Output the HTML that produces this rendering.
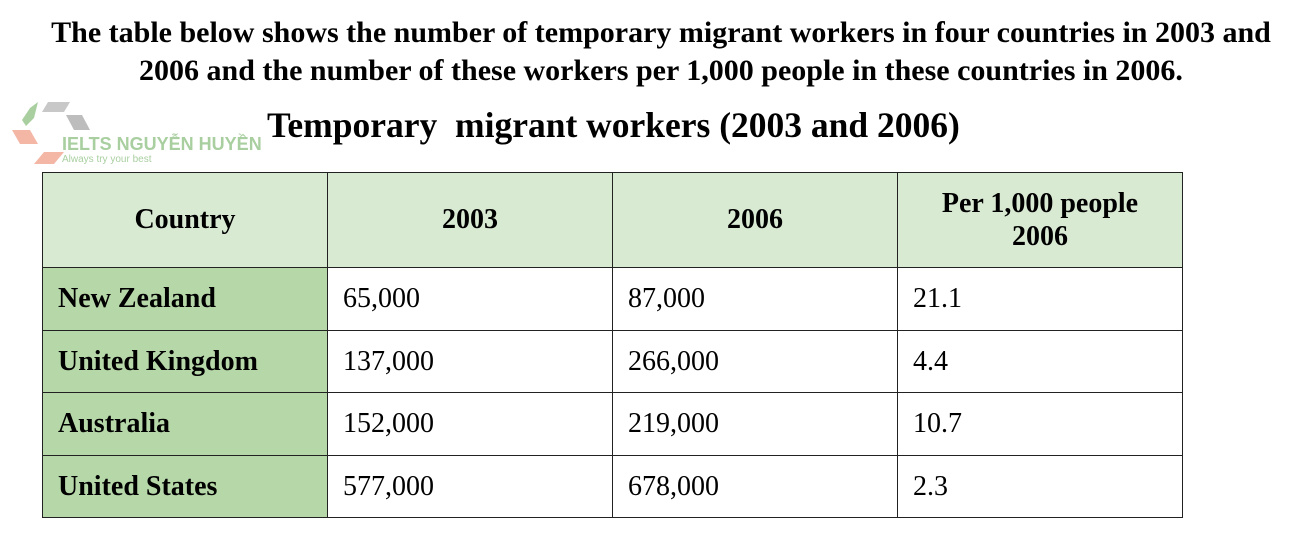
<!DOCTYPE html>
<html><head><style>
body{margin:0;width:1296px;height:548px;background:#fff;position:relative;font-family:"Liberation Serif",serif;overflow:hidden}
.t{position:absolute;white-space:nowrap;color:#000}
table{position:absolute;left:42px;top:172px;border-collapse:collapse;}
td{border:1.5px solid #222;padding:0;font-size:28px;}
.h td{background:#d9ead3;font-weight:bold;text-align:center;height:94px}
td.c{background:#b6d7a8;font-weight:bold;padding-left:15px}
td.v{padding-left:15px}
</style></head><body>
<div class="t" style="left:0;width:1322px;text-align:center;top:14px;font-size:30px;font-weight:bold;line-height:38px">The table below shows the number of temporary migrant workers in four countries in 2003 and<br>2006 and the number of these workers per 1,000 people in these countries in 2006.</div>
<div class="t" style="left:267px;top:104px;font-size:35.5px;font-weight:bold">Temporary&nbsp; migrant workers (2003 and 2006)</div>
<svg style="position:absolute;left:8px;top:100px" width="260" height="70">
<polygon points="22,8 30,2 26,18 18,26 14,20" fill="#a9cfa0"/>
<polygon points="40,2 62,2 56,12 34,12" fill="#c8c8c8"/>
<polygon points="58,15 74,15 82,30 66,30" fill="#bdbdbd"/>
<polygon points="4,30 22,30 30,44 12,44" fill="#f4b7a6"/>
<polygon points="36,52 56,52 46,64 26,64" fill="#f4b7a6"/>
<text x="54" y="50" font-family="Liberation Sans,sans-serif" font-weight="bold" font-size="18" fill="#a9cfa0">IELTS NGUYỄN HUYỀN</text>
<text x="54" y="62" font-family="Liberation Sans,sans-serif" font-size="10" fill="#a9cfa0">Always try your best</text>
</svg>
<table>
<tr class="h"><td style="width:284px">Country</td><td style="width:284px">2003</td><td style="width:284px">2006</td><td style="width:284px;line-height:33px">Per 1,000 people<br>2006</td></tr>
<tr style="height:63px"><td class="c">New Zealand</td><td class="v">65,000</td><td class="v">87,000</td><td class="v">21.1</td></tr>
<tr style="height:62px"><td class="c">United Kingdom</td><td class="v">137,000</td><td class="v">266,000</td><td class="v">4.4</td></tr>
<tr style="height:63px"><td class="c">Australia</td><td class="v">152,000</td><td class="v">219,000</td><td class="v">10.7</td></tr>
<tr style="height:62px"><td class="c">United States</td><td class="v">577,000</td><td class="v">678,000</td><td class="v">2.3</td></tr>
</table>
</body></html>
